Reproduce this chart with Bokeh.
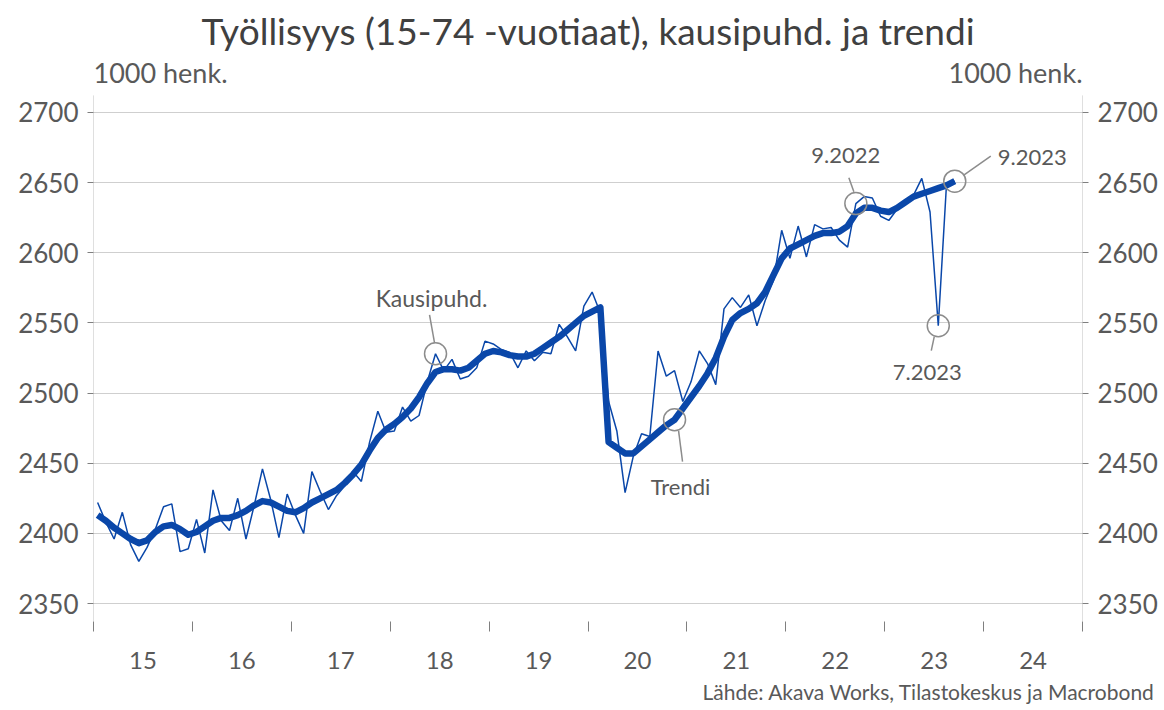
from bokeh.plotting import figure
from bokeh.models import Range1d, FixedTicker, LinearAxis, Label, ColumnDataSource, Title
from bokeh.embed import file_html
from bokeh.resources import INLINE

# ---------------- data ----------------
start_year = 2015
kausipuhd = [
    2422, 2408, 2396, 2415, 2392, 2380, 2390, 2403, 2419, 2421, 2387, 2389,   # 2015
    2410, 2386, 2431, 2409, 2402, 2425, 2396, 2420, 2446, 2424, 2397, 2428,   # 2016
    2413, 2400, 2444, 2430, 2417, 2427, 2434, 2444, 2437, 2465, 2487, 2472,   # 2017
    2473, 2490, 2480, 2484, 2508, 2528, 2516, 2524, 2510, 2512, 2518, 2537,   # 2018
    2535, 2531, 2529, 2518, 2530, 2523, 2529, 2528, 2549, 2540, 2530, 2562,   # 2019
    2572, 2557, 2494, 2473, 2429, 2455, 2471, 2469, 2530, 2512, 2516, 2494,   # 2020
    2508, 2530, 2521, 2506, 2560, 2568, 2561, 2570, 2548, 2566, 2580, 2616,   # 2021
    2596, 2619, 2597, 2620, 2617, 2618, 2609, 2604, 2635, 2640, 2639, 2626,   # 2022
    2623, 2631, 2636, 2641, 2653, 2629, 2548, 2649, 2651,                     # 2023
]
trendi = [
    2413, 2409, 2404, 2400, 2396, 2393, 2395, 2401, 2405, 2406, 2403, 2399,
    2401, 2405, 2409, 2411, 2411, 2413, 2416, 2420, 2423, 2422, 2419, 2416,
    2415, 2418, 2422, 2425, 2428, 2431, 2436, 2442, 2449, 2459, 2468, 2474,
    2478, 2483, 2489, 2497, 2507, 2515, 2517, 2517, 2516, 2518, 2523, 2528,
    2530, 2529, 2527, 2526, 2526, 2528, 2532, 2536, 2540, 2545, 2550, 2555,
    2558, 2561, 2465, 2461, 2457, 2457, 2462, 2467, 2472, 2477, 2481, 2489,
    2497, 2505, 2514, 2525, 2540, 2552, 2557, 2560, 2564, 2572, 2584, 2596,
    2603, 2606, 2609, 2612, 2614, 2614, 2615, 2619, 2628, 2632, 2632, 2630,
    2629, 2632, 2636, 2640, 2642, 2644, 2646, 2648, 2651,
]
year_labels = ["15", "16", "17", "18", "19", "20", "21", "22", "23", "24"]
y_ticks = [2350, 2400, 2450, 2500, 2550, 2600, 2650, 2700]

title_text = "Työllisyys (15-74 -vuotiaat), kausipuhd. ja trendi"
unit_text = "1000 henk."
source_text = "Lähde: Akava Works, Tilastokeskus ja Macrobond"

# annotations: (series, index, text)
annotations = [
    ("kausi", 41, "Kausipuhd."),
    ("trend", 70, "Trendi"),
    ("kausi", 92, "9.2022"),
    ("kausi", 102, "7.2023"),
    ("trend", 104, "9.2023"),
]

x = [start_year + (i + 0.5) / 12 for i in range(len(kausipuhd))]

# ---------------- style ----------------
FONT = "Lato"
TXT = "#595959"
BLUE = "#0a47a9"
GRID = "#cfcfcf"
AX = "#bfbfbf"
CIRC = "#8c8c8c"

# page geometry
W, H = 1160, 708
FL, FR, FT, FB = 93, 1082, 58, 622          # frame edges (px)
PXY = 492 / 350                            # px per unit (2700 at y=112, 2350 at y=604)
PXX = (FR - FL) / 10.0
X0, X1 = 2015, 2025
Y1 = 2700 + (112 - FT) / PXY
Y0 = 2350 - (FB - 604) / PXY
AXIS_TOP = 2700 + (112 - 95) / PXY

def yval(ypix):
    return 2700 + (112 - ypix) / PXY

p = figure(width=W, height=H, output_backend="svg", toolbar_location=None,
           x_range=Range1d(X0, X1), y_range=Range1d(Y0, Y1),
           min_border_left=FL, min_border_right=W - FR,
           min_border_top=FT, min_border_bottom=H - FB)
p.outline_line_color = None
p.background_fill_color = "white"
p.border_fill_color = "white"

# title
p.title.text = title_text
p.title.align = "center"
p.title.text_font = FONT
p.title.text_font_size = "37px"
p.title.text_font_style = "normal"
p.title.text_color = "#404040"
p.title.standoff = 11

# source (below)
src_title = Title(text=source_text, align="right", offset=-73,
                  text_font=FONT, text_font_size="21px", text_font_style="normal",
                  text_color=TXT, standoff=10)
p.add_layout(src_title, "below")

# grid
p.xgrid.visible = False
p.ygrid.ticker = FixedTicker(ticks=y_ticks)
p.ygrid.grid_line_color = GRID
p.ygrid.grid_line_width = 1

# x axis
mids = [start_year + k + 0.5 for k in range(len(year_labels))]
bounds = [start_year + k for k in range(len(year_labels) + 1)]
xa = p.xaxis[0]
xa.ticker = FixedTicker(ticks=mids, minor_ticks=bounds)
xa.major_label_overrides = {m: lab for m, lab in zip(mids, year_labels)}
xa.major_tick_out = 0
xa.major_tick_in = 0
xa.minor_tick_out = 10
xa.minor_tick_in = 0
xa.minor_tick_line_color = "#7f7f7f"
xa.minor_tick_line_width = 1
xa.axis_line_color = None
xa.major_label_standoff = 20
xa.major_label_text_font = FONT
xa.major_label_text_font_size = "24px"
xa.major_label_text_color = TXT

# y axes
def style_y(ax):
    ax.ticker = FixedTicker(ticks=y_ticks)
    ax.axis_line_color = None
    ax.major_tick_out = 6
    ax.major_tick_in = 0
    ax.major_tick_line_color = "#7f7f7f"
    ax.minor_tick_out = 0
    ax.minor_tick_in = 0
    ax.major_label_standoff = 9
    ax.major_label_text_font = FONT
    ax.major_label_text_font_size = "26px"
    ax.major_label_text_color = TXT

style_y(p.yaxis[0])
ry = LinearAxis()
p.add_layout(ry, "right")
style_y(ry)

# vertical axis lines (stop at the top of the value area)
p.segment([X0, X1], [Y0, Y0], [X0, X1], [AXIS_TOP, AXIS_TOP], line_color=AX, line_width=1)

# lines
src = ColumnDataSource(dict(x=x, k=kausipuhd, t=trendi))
p.line("x", "k", source=src, line_color=BLUE, line_width=1.5)
p.line("x", "t", source=src, line_color=BLUE, line_width=6.5, line_join="round")

# annotation geometry (pixel offsets relative to the point)
leader = {
    "Kausipuhd.": ((-1, -11), (-6, -39), (-4, -56), "center", "23px"),
    "Trendi": ((4, 11), (8, 42), (6, 67), "center", "22px"),
    "9.2022": ((-2, -12), (-7, -26), (-10, -48), "center", "22px"),
    "7.2023": ((-4, 11), (-7, 25), (-11, 47), "center", "22px"),
    "9.2023": ((9, -6), (36, -25), (43, -24), "left", "22px"),
}
cx, cy = [], []
sx0, sy0, sx1, sy1 = [], [], [], []
for series, idx, text in annotations:
    vx = x[idx]
    vy = kausipuhd[idx] if series == "kausi" else trendi[idx]
    cx.append(vx)
    cy.append(vy)
    (a, b), (c, d), (lx, ly), align, fs = leader[text]
    sx0.append(vx + a / PXX); sy0.append(vy - b / PXY)
    sx1.append(vx + c / PXX); sy1.append(vy - d / PXY)
    p.add_layout(Label(x=vx, y=vy, x_offset=lx, y_offset=-ly, text=text,
                       text_font=FONT, text_font_size=fs, text_color=TXT,
                       text_align=align, text_baseline="middle"))

p.segment(sx0, sy0, sx1, sy1, line_color=CIRC, line_width=1.5)
p.scatter(cx, cy, marker="circle", size=22, fill_color=None,
          line_color=CIRC, line_width=1.5)

# unit labels (inside the top band of the frame)
p.add_layout(Label(x=X0, y=yval(72), text=unit_text,
                   text_font=FONT, text_font_size="27px", text_color=TXT,
                   text_align="left", text_baseline="middle"))
p.add_layout(Label(x=X1, y=yval(72), text=unit_text,
                   text_font=FONT, text_font_size="27px", text_color=TXT,
                   text_align="right", text_baseline="middle"))

open("out.html", "w").write(file_html(p, INLINE))
